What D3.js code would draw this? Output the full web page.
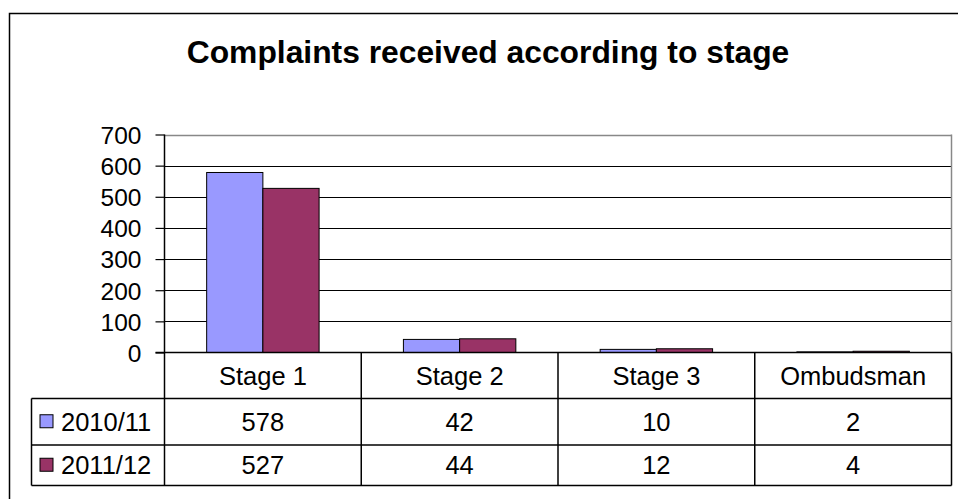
<!DOCTYPE html>
<html>
<head>
<meta charset="utf-8">
<script src="https://cdn.jsdelivr.net/npm/d3@7"></script>
<style>
	body { margin: 0; background: #fff; }
	svg { display: block; font-family: "Liberation Sans", Arial, sans-serif; }
</style>
</head>
<body>
<div id="chart"></div>
<script>
// data
const categories = ['Stage 1', 'Stage 2', 'Stage 3', 'Ombudsman']
const seriesNames = ['2010/11', '2011/12']
const values2010 = [578, 42, 10, 2]
const values2011 = [527, 44, 12, 4]
const seriesColors = ['#9999ff', '#993366']
const yTicks = [0, 100, 200, 300, 400, 500, 600, 700]

const width = 958
const height = 499
const tableFont = '25.5px'

const svg = d3.select('#chart').append('svg')
	.attr('width', width)
	.attr('height', height)

// outer chart frame (runs off the right and bottom edges)
svg.append('rect')
	.attr('x', 9.5).attr('y', 13.5)
	.attr('width', 1000).attr('height', 600)
	.attr('fill', 'none')
	.attr('stroke', '#000')
	.attr('stroke-width', 1.5)

// title
svg.append('text')
	.attr('x', 488)
	.attr('y', 63)
	.attr('text-anchor', 'middle')
	.style('font-size', '31.8px')
	.style('font-weight', 'bold')
	.text('Complaints received according to stage')

const plotLeft = 164.5
const plotRight = 951.5
const plotTop = 134.5
const plotBottom = 352.5

const x = d3.scaleBand()
	.domain(categories)
	.range([plotLeft, plotRight])

const xInner = d3.scaleBand()
	.domain(seriesNames)
	.range([0, x.bandwidth()])
	.paddingOuter(0.75)

const y = d3.scaleLinear()
	.domain([0, 700])
	.range([plotBottom, plotTop])

// gridlines
svg.append('g')
	.selectAll('line')
	.data(yTicks.filter(d => d > 0))
	.join('line')
	.attr('x1', plotLeft).attr('x2', plotRight)
	.attr('y1', d => Math.round(y(d)) + 0.5)
	.attr('y2', d => Math.round(y(d)) + 0.5)
	.attr('stroke', d => d == 700 ? '#888' : '#000')
	.attr('stroke-width', d => d == 700 ? 1.5 : 1)

// right border of plot area
svg.append('line')
	.attr('x1', plotRight).attr('x2', plotRight)
	.attr('y1', plotTop).attr('y2', plotBottom)
	.attr('stroke', '#888')
	.attr('stroke-width', 1.5)

// bars
const series = seriesNames.map((name, i) => ({
	name: name,
	color: seriesColors[i],
	values: i == 0 ? values2010 : values2011
}))

svg.append('g')
	.selectAll('g')
	.data(series)
	.join('g')
	.attr('fill', d => d.color)
	.selectAll('rect')
	.data(s => s.values.map((v, j) => ({ s: s.name, cat: categories[j], v: v })))
	.join('rect')
	.attr('x', d => x(d.cat) + xInner(d.s))
	.attr('y', d => y(d.v))
	.attr('width', xInner.bandwidth())
	.attr('height', d => y(0) - y(d.v))
	.attr('stroke', '#000')
	.attr('stroke-width', 1)

// y axis
const yAxis = svg.append('g')
	.attr('transform', `translate(${plotLeft},0)`)
	.call(d3.axisLeft(y).tickValues(yTicks).tickSize(9).tickPadding(14))
yAxis.select('.domain').remove()
yAxis.selectAll('.tick line').attr('stroke', '#000').attr('stroke-width', 1.2)
yAxis.selectAll('.tick text')
	.style('font-size', '24.5px')
	.style('font-family', '"Liberation Sans", Arial, sans-serif')
	.attr('fill', '#000')
	.attr('dy', '0.36em')

svg.append('line')
	.attr('x1', plotLeft).attr('x2', plotLeft)
	.attr('y1', plotTop).attr('y2', plotBottom)
	.attr('stroke', '#000')
	.attr('stroke-width', 1.5)

// data table under the plot
const tableLeft = 31.5
const rowLines = [plotBottom, 398.5, 445, 485.5]

const table = svg.append('g')
	.attr('stroke', '#000')
	.attr('stroke-width', 1.5)

// header row top (category axis line)
table.append('line')
	.attr('x1', plotLeft - 9).attr('x2', plotRight)
	.attr('y1', rowLines[0]).attr('y2', rowLines[0])

rowLines.slice(1).forEach(ry => {
	table.append('line')
		.attr('x1', tableLeft).attr('x2', plotRight)
		.attr('y1', ry).attr('y2', ry)
})

// vertical dividers
table.append('line')
	.attr('x1', tableLeft).attr('x2', tableLeft)
	.attr('y1', rowLines[1]).attr('y2', rowLines[3])

categories.forEach(c => {
	table.append('line')
		.attr('x1', x(c)).attr('x2', x(c))
		.attr('y1', rowLines[0]).attr('y2', rowLines[3])
})
table.append('line')
	.attr('x1', plotRight).attr('x2', plotRight)
	.attr('y1', rowLines[0]).attr('y2', rowLines[3])

// category labels
svg.append('g')
	.selectAll('text')
	.data(categories)
	.join('text')
	.attr('x', d => x(d) + x.bandwidth() / 2)
	.attr('y', (rowLines[0] + rowLines[1]) / 2)
	.attr('dy', '0.36em')
	.attr('text-anchor', 'middle')
	.style('font-size', tableFont)
	.text(d => d)

// value rows with legend keys
series.forEach((s, i) => {
	const cy = (rowLines[i + 1] + rowLines[i + 2]) / 2
	const row = svg.append('g')

	row.append('rect')
		.attr('x', 40).attr('y', cy - 7)
		.attr('width', 13).attr('height', 13)
		.attr('fill', s.color)
		.attr('stroke', '#000')
		.attr('stroke-width', 1)

	row.append('text')
		.attr('x', 61)
		.attr('y', cy)
		.attr('dy', '0.36em')
		.style('font-size', tableFont)
		.text(s.name)

	row.selectAll('.val')
		.data(s.values)
		.join('text')
		.attr('class', 'val')
		.attr('x', (d, j) => x(categories[j]) + x.bandwidth() / 2)
		.attr('y', cy)
		.attr('dy', '0.36em')
		.attr('text-anchor', 'middle')
		.style('font-size', tableFont)
		.text(d => d)
})
</script>
</body>
</html>
